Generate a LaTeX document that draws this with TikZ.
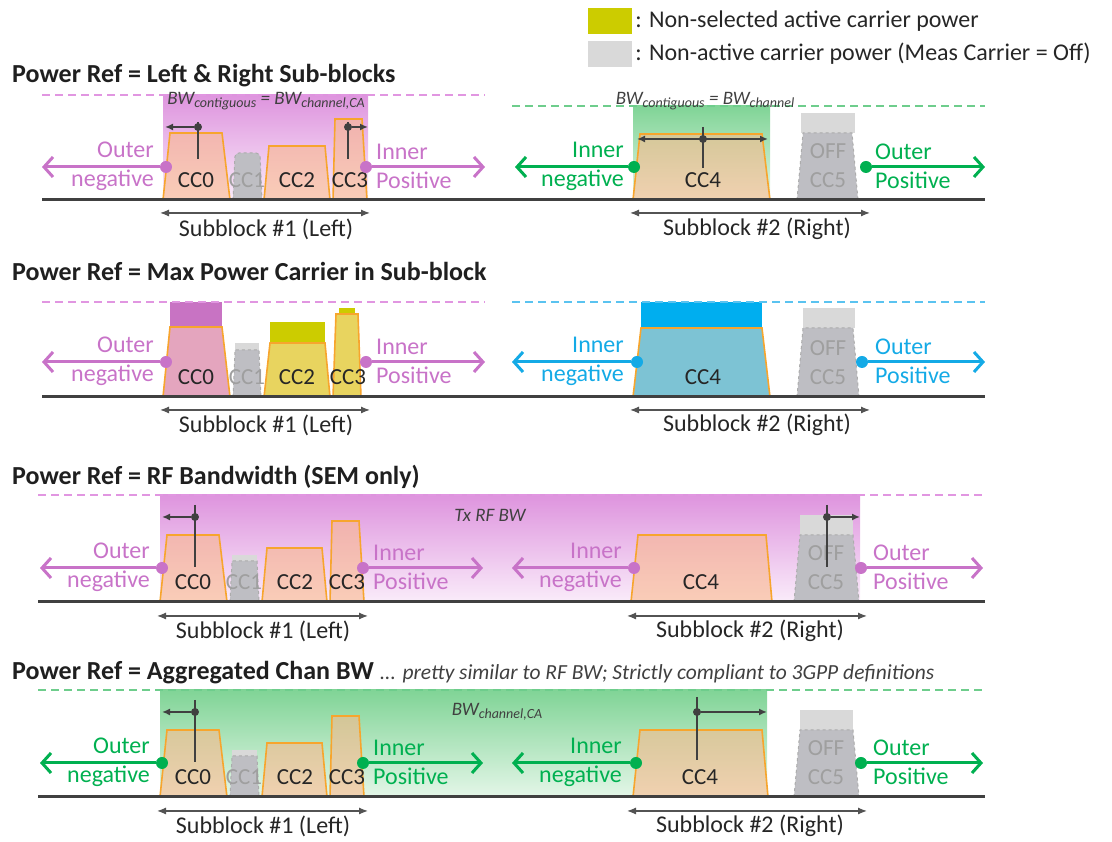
\documentclass[tikz,border=0pt]{standalone}
\usepackage{fontspec}
\setmainfont{Carlito}
\usetikzlibrary{arrows.meta,positioning}
\definecolor{pinkc}{RGB}{200,115,200}
\definecolor{pinkdash}{RGB}{225,150,225}
\definecolor{greenc}{RGB}{0,176,80}
\definecolor{greendash}{RGB}{110,205,140}
\definecolor{bluec}{RGB}{20,170,230}
\definecolor{bluedash}{RGB}{90,195,240}
\definecolor{ccline}{RGB}{247,165,45}
\definecolor{peach}{RGB}{250,185,140}
\definecolor{marker}{RGB}{64,64,64}
\definecolor{offgray}{RGB}{190,190,195}
\definecolor{lightoff}{RGB}{217,217,217}
\definecolor{ygreen}{RGB}{204,204,0}
\definecolor{magblock}{RGB}{200,115,195}
\definecolor{pinkfill}{RGB}{228,165,190}
\definecolor{yellfill}{RGB}{232,212,95}
\definecolor{tealfill}{RGB}{125,195,212}
\definecolor{cyanblock}{RGB}{0,174,239}
\definecolor{pinktop}{RGB}{222,148,222}
\definecolor{pinkbot}{RGB}{250,236,250}
\definecolor{greentop}{RGB}{128,212,150}
\definecolor{greenbot}{RGB}{228,246,232}
\newcommand{\subtx}[1]{\raisebox{-3pt}{\fontsize{14}{14}\selectfont #1}}

\begin{document}
\begin{tikzpicture}[x=1pt, y=1pt,
  title/.style={anchor=west, inner sep=0pt, text=black!88, font=\fontsize{26}{30}\selectfont\bfseries},
  sidetxt/.style={inner sep=0pt, text=#1, font=\fontsize{24}{29}\selectfont},
  cctxt/.style={inner sep=0pt, text=black!85, font=\fontsize{23}{29}\selectfont},
  offtxt/.style={cctxt, text=gray!75, align=center},
  bwtxt/.style={inner sep=0pt, text=marker, font=\fontsize{19}{22}\selectfont\itshape},
  subtxt/.style={inner sep=0pt, text=black!85, font=\fontsize{24}{28}\selectfont},
  legtxt/.style={inner sep=0pt, text=black!85, font=\fontsize{24}{28}\selectfont},
  legbox/.style={minimum width=44pt, minimum height=26pt, inner sep=0pt},
  cc/.style={draw=ccline, line width=1.6pt, fill=peach, fill opacity=0.6},
  offcc/.style={draw=gray!65, dashed, line width=1pt, fill=offgray},
  axisline/.style={draw=marker, line width=3pt},
  refline/.style={draw=#1, dash pattern=on 8pt off 5pt, line width=1.5pt},
  sdot/.style={circle, fill=#1, inner sep=0pt, minimum size=12pt},
  mdot/.style={circle, fill=marker, inner sep=0pt, minimum size=8pt},
  sarrow/.style={draw=#1, line width=3pt, -{Straight Barb[length=9pt,width=20pt]}},
  mline/.style={draw=marker, line width=1.8pt},
  marrow/.style={mline, -{Latex[length=8pt,width=7pt]}},
  subarrow/.style={draw=marker!90, line width=1.2pt, {Latex[length=9pt,width=7pt]}-{Latex[length=9pt,width=7pt]}}]
  \useasboundingbox (0,0) rectangle (1112,842);
  % legend
  \node[legbox, fill=ygreen] (k1) at (610,821) {};
  \node[legtxt, right=3pt of k1] (k1t) {: Non-selected active carrier power};
  \node[legbox, fill=lightoff] (k2) at (610,788) {};
  \node[legtxt, right=3pt of k2] (k2t) {: Non-active carrier power (Meas Carrier = Off)};
  % Left & Right sub-blocks
  \begin{scope}[yshift=642pt]
    \node[title] (t1) at (12,124) {Power Ref = Left \& Right Sub-blocks};
    \shade[top color=pinktop, bottom color=pinkbot] (163,0) rectangle (368,105);
    \shade[top color=greentop, bottom color=greenbot] (633,0) rectangle (770,94);
    \draw[refline=pinkdash] (42,105) -- (485,105);
    \draw[refline=greendash] (512,94) -- (985,94);
    \draw[cc] (163,0) -- (170,67) -- (222,67) -- (230,0);
    \draw[offcc, rounded corners=4pt] (233,0) -- (235,47) -- (260,47) -- (262,0);
    \draw[cc] (264,0) -- (269,54) -- (325,54) -- (330,0);
    \draw[cc] (333,0) -- (335,81) -- (362,81) -- (367,0);
    \draw[cc] (633,0) -- (640,66) -- (762,66) -- (770,0);
    \fill[lightoff] (801,67) rectangle (855,87);
    \draw[offcc] (797,0) -- (803,67) -- (852,67) -- (858,0);
    \draw[axisline] (42,0) -- (985,0);
    \node[bwtxt] (bw1) at (266,99) {BW\subtx{contiguous} = BW\subtx{channel,CA}};
    \node[bwtxt] (bw2) at (705,99) {BW\subtx{contiguous} = BW\subtx{channel}};
    \node[cctxt] (c10) at (196,20) {CC0};
    \node[offtxt] (c11) at (247,20) {CC1};
    \node[cctxt] (c12) at (297,20) {CC2};
    \node[cctxt] (c13) at (350,20) {CC3};
    \node[cctxt] (c14) at (703,20) {CC4};
    \node[offtxt] (c15) at (828,34) {OFF\\CC5};
    % edge markers
    \coordinate (m10t) at (198,78); \coordinate (m10b) at (198,41); \coordinate (m10e) at (165,73);
    \draw[mline] (m10t) -- (m10b);
    \node[mdot] (m10) at (198,73) {};
    \draw[marrow] (m10) -- (m10e);
    \coordinate (m13t) at (348,78); \coordinate (m13b) at (348,41); \coordinate (m13e) at (368,73);
    \draw[mline] (m13t) -- (m13b);
    \node[mdot] (m13) at (348,73) {};
    \draw[marrow] (m13) -- (m13e);
    \coordinate (m14t) at (703,73); \coordinate (m14b) at (703,32);
    \coordinate (m14l) at (637,61); \coordinate (m14r) at (768,61);
    \draw[mline] (m14t) -- (m14b);
    \draw[mline, {Latex[length=8pt,width=7pt]}-{Latex[length=8pt,width=7pt]}] (m14l) -- (m14r);
    \node[mdot] (m14) at (703,61) {};
    % offsets
    \node[sdot=pinkc] (d1a) at (166,33) {};
    \node[sdot=pinkc] (d1b) at (366,33) {};
    \node[sdot=greenc] (d1c) at (634,33) {};
    \node[sdot=greenc] (d1d) at (866,33) {};
    \coordinate (e1a) at (42,33); \coordinate (e1b) at (485,33);
    \coordinate (e1c) at (515,33); \coordinate (e1d) at (985,33);
    \draw[sarrow=pinkc] (d1a) -- (e1a);
    \draw[sarrow=pinkc] (d1b) -- (e1b);
    \draw[sarrow=greenc] (d1c) -- (e1c);
    \draw[sarrow=greenc] (d1d) -- (e1d);
    \node[sidetxt=pinkc, align=right, anchor=east] (o1a) at (154,34) {Outer\\negative};
    \node[sidetxt=pinkc, align=left, anchor=west] (o1b) at (376,34) {Inner\\Positive};
    \node[sidetxt=greenc, align=right, anchor=east] (o1c) at (624,34) {Inner\\negative};
    \node[sidetxt=greenc, align=left, anchor=west] (o1d) at (875,34) {Outer\\Positive};
    \coordinate (s1a) at (160,-13); \coordinate (s1b) at (370,-13);
    \coordinate (s1c) at (630,-13); \coordinate (s1d) at (870,-13);
    \draw[subarrow] (s1a) -- (s1b);
    \draw[subarrow] (s1c) -- (s1d);
    \node[subtxt] (u1a) at (266,-29) {Subblock \#1 (Left)};
    \node[subtxt] (u1b) at (757,-29) {Subblock \#2 (Right)};
  \end{scope}
  % Max power carrier
  \begin{scope}[yshift=445pt]
    \node[title] (t2) at (12,126) {Power Ref = Max Power Carrier in Sub-block};
    \fill[magblock] (170,70) rectangle (222,95);
    \draw[cc, fill=pinkfill, fill opacity=1] (163,0) -- (170,70) -- (222,70) -- (230,0);
    \fill[lightoff] (235,47) rectangle (259,54);
    \draw[offcc] (233,0) -- (235,47) -- (259,47) -- (261,0);
    \fill[ygreen] (270,54) rectangle (325,75);
    \draw[cc, fill=yellfill, fill opacity=1] (264,0) -- (270,54) -- (325,54) -- (330,0);
    \fill[ygreen] (339,83) rectangle (355,89);
    \draw[cc, fill=yellfill, fill opacity=1] (333,0) -- (336,83) -- (358,83) -- (361,0);
    \fill[cyanblock] (641,69) rectangle (762,95);
    \draw[cc, fill=tealfill, fill opacity=1] (633,0) -- (641,69) -- (762,69) -- (770,0);
    \fill[lightoff] (803,69) rectangle (855,89);
    \draw[offcc] (797,0) -- (803,69) -- (853,69) -- (859,0);
    \draw[refline=pinkdash] (42,95) -- (485,95);
    \draw[refline=bluedash] (512,95) -- (985,95);
    \draw[axisline] (42,0) -- (985,0);
    \node[cctxt] (c20) at (196,20) {CC0};
    \node[offtxt] (c21) at (247,20) {CC1};
    \node[cctxt] (c22) at (297,20) {CC2};
    \node[cctxt] (c23) at (348,20) {CC3};
    \node[cctxt] (c24) at (703,20) {CC4};
    \node[offtxt] (c25) at (828,34) {OFF\\CC5};
    \node[sdot=pinkc] (d2a) at (166,35) {};
    \node[sdot=pinkc] (d2b) at (366,35) {};
    \node[sdot=bluec] (d2c) at (637,35) {};
    \node[sdot=bluec] (d2d) at (862,35) {};
    \coordinate (e2a) at (42,35); \coordinate (e2b) at (485,35);
    \coordinate (e2c) at (512,35); \coordinate (e2d) at (985,35);
    \draw[sarrow=pinkc] (d2a) -- (e2a);
    \draw[sarrow=pinkc] (d2b) -- (e2b);
    \draw[sarrow=bluec] (d2c) -- (e2c);
    \draw[sarrow=bluec] (d2d) -- (e2d);
    \node[sidetxt=pinkc, align=right, anchor=east] (o2a) at (154,36) {Outer\\negative};
    \node[sidetxt=pinkc, align=left, anchor=west] (o2b) at (376,36) {Inner\\Positive};
    \node[sidetxt=bluec, align=right, anchor=east] (o2c) at (624,36) {Inner\\negative};
    \node[sidetxt=bluec, align=left, anchor=west] (o2d) at (875,36) {Outer\\Positive};
    \coordinate (s2a) at (160,-13); \coordinate (s2b) at (370,-13);
    \coordinate (s2c) at (630,-13); \coordinate (s2d) at (870,-13);
    \draw[subarrow] (s2a) -- (s2b);
    \draw[subarrow] (s2c) -- (s2d);
    \node[subtxt] (u2a) at (266,-28) {Subblock \#1 (Left)};
    \node[subtxt] (u2b) at (757,-28) {Subblock \#2 (Right)};
  \end{scope}
  % RF bandwidth
  \begin{scope}[yshift=240pt]
    \node[title] (t3) at (12,125) {Power Ref = RF Bandwidth (SEM only)};
    \shade[top color=pinktop, bottom color=pinkbot] (160,0) rectangle (860,107);
    \draw[refline=pinkdash] (38,107) -- (985,107);
    \draw[cc] (160,0) -- (167,67) -- (219,67) -- (227,0);
    \fill[lightoff] (232,41) rectangle (257,47);
    \draw[offcc] (230,0) -- (232,41) -- (257,41) -- (259,0);
    \draw[cc] (262,0) -- (267,54) -- (322,54) -- (327,0);
    \draw[cc] (330,0) -- (332,81) -- (359,81) -- (364,0);
    \draw[cc] (631,0) -- (638,67) -- (766,67) -- (772,0);
    \fill[lightoff] (800,67) rectangle (853,87);
    \draw[offcc] (794,0) -- (800,67) -- (853,67) -- (859,0);
    \draw[axisline] (38,0) -- (985,0);
    \node[bwtxt] (bw3) at (490,87) {Tx RF BW};
    \node[cctxt] (c30) at (193,20) {CC0};
    \node[offtxt] (c31) at (244,20) {CC1};
    \node[cctxt] (c32) at (295,20) {CC2};
    \node[cctxt] (c33) at (347,20) {CC3};
    \node[cctxt] (c34) at (701,20) {CC4};
    \node[offtxt] (c35) at (826,34) {OFF\\CC5};
    \coordinate (m30t) at (195,97); \coordinate (m30b) at (195,35); \coordinate (m30e) at (162,85);
    \draw[mline] (m30t) -- (m30b);
    \node[mdot] (m30) at (195,85) {};
    \draw[marrow] (m30) -- (m30e);
    \coordinate (m35t) at (827,97); \coordinate (m35b) at (827,35); \coordinate (m35e) at (860,85);
    \draw[mline] (m35t) -- (m35b);
    \node[mdot] (m35) at (827,85) {};
    \draw[marrow] (m35) -- (m35e);
    \node[sdot=pinkc] (d3a) at (162,34) {};
    \node[sdot=pinkc] (d3b) at (363,34) {};
    \node[sdot=pinkc] (d3c) at (634,34) {};
    \node[sdot=pinkc] (d3d) at (861,34) {};
    \coordinate (e3a) at (40,34); \coordinate (e3b) at (483,34);
    \coordinate (e3c) at (512,34); \coordinate (e3d) at (983,34);
    \draw[sarrow=pinkc] (d3a) -- (e3a);
    \draw[sarrow=pinkc] (d3b) -- (e3b);
    \draw[sarrow=pinkc] (d3c) -- (e3c);
    \draw[sarrow=pinkc] (d3d) -- (e3d);
    \node[sidetxt=pinkc, align=right, anchor=east] (o3a) at (150,35) {Outer\\negative};
    \node[sidetxt=pinkc, align=left, anchor=west] (o3b) at (373,35) {Inner\\Positive};
    \node[sidetxt=pinkc, align=right, anchor=east] (o3c) at (622,35) {Inner\\negative};
    \node[sidetxt=pinkc, align=left, anchor=west] (o3d) at (873,35) {Outer\\Positive};
    \coordinate (s3a) at (157,-14); \coordinate (s3b) at (368,-14);
    \coordinate (s3c) at (627,-14); \coordinate (s3d) at (867,-14);
    \draw[subarrow] (s3a) -- (s3b);
    \draw[subarrow] (s3c) -- (s3d);
    \node[subtxt] (u3a) at (263,-29) {Subblock \#1 (Left)};
    \node[subtxt] (u3b) at (750,-29) {Subblock \#2 (Right)};
  \end{scope}
  % Aggregated channel BW
  \begin{scope}[yshift=45pt]
    \node[title] (t4) at (12,124) {Power Ref = Aggregated Chan BW {\mdseries\itshape\fontsize{21.5}{24}\selectfont\color{marker} ... pretty similar to RF BW; Strictly compliant to 3GPP definitions}};
    \shade[top color=greentop, bottom color=greenbot] (160,0) rectangle (767,107);
    \draw[refline=greendash] (38,107) -- (985,107);
    \draw[cc] (160,0) -- (167,67) -- (219,67) -- (227,0);
    \fill[lightoff] (232,41) rectangle (257,47);
    \draw[offcc] (230,0) -- (232,41) -- (257,41) -- (259,0);
    \draw[cc] (262,0) -- (267,54) -- (322,54) -- (327,0);
    \draw[cc] (330,0) -- (332,81) -- (359,81) -- (364,0);
    \draw[cc] (633,0) -- (640,67) -- (762,67) -- (768,0);
    \fill[lightoff] (800,67) rectangle (853,87);
    \draw[offcc] (794,0) -- (800,67) -- (853,67) -- (859,0);
    \draw[axisline] (38,0) -- (985,0);
    \node[bwtxt] (bw4) at (497,85) {BW\subtx{channel,CA}};
    \node[cctxt] (c40) at (193,20) {CC0};
    \node[offtxt] (c41) at (244,20) {CC1};
    \node[cctxt] (c42) at (295,20) {CC2};
    \node[cctxt] (c43) at (347,20) {CC3};
    \node[cctxt] (c44) at (700,20) {CC4};
    \node[offtxt] (c45) at (826,34) {OFF\\CC5};
    \coordinate (m40t) at (195,97); \coordinate (m40b) at (195,35); \coordinate (m40e) at (162,85);
    \draw[mline] (m40t) -- (m40b);
    \node[mdot] (m40) at (195,85) {};
    \draw[marrow] (m40) -- (m40e);
    \coordinate (m44t) at (697,100); \coordinate (m44b) at (697,37); \coordinate (m44e) at (767,85);
    \draw[mline] (m44t) -- (m44b);
    \node[mdot] (m44) at (697,85) {};
    \draw[marrow] (m44) -- (m44e);
    \node[sdot=greenc] (d4a) at (162,34) {};
    \node[sdot=greenc] (d4b) at (363,34) {};
    \node[sdot=greenc] (d4c) at (636,34) {};
    \node[sdot=greenc] (d4d) at (861,34) {};
    \coordinate (e4a) at (40,34); \coordinate (e4b) at (483,34);
    \coordinate (e4c) at (512,34); \coordinate (e4d) at (983,34);
    \draw[sarrow=greenc] (d4a) -- (e4a);
    \draw[sarrow=greenc] (d4b) -- (e4b);
    \draw[sarrow=greenc] (d4c) -- (e4c);
    \draw[sarrow=greenc] (d4d) -- (e4d);
    \node[sidetxt=greenc, align=right, anchor=east] (o4a) at (150,35) {Outer\\negative};
    \node[sidetxt=greenc, align=left, anchor=west] (o4b) at (373,35) {Inner\\Positive};
    \node[sidetxt=greenc, align=right, anchor=east] (o4c) at (622,35) {Inner\\negative};
    \node[sidetxt=greenc, align=left, anchor=west] (o4d) at (873,35) {Outer\\Positive};
    \coordinate (s4a) at (157,-14); \coordinate (s4b) at (368,-14);
    \coordinate (s4c) at (627,-14); \coordinate (s4d) at (867,-14);
    \draw[subarrow] (s4a) -- (s4b);
    \draw[subarrow] (s4c) -- (s4d);
    \node[subtxt] (u4a) at (263,-29) {Subblock \#1 (Left)};
    \node[subtxt] (u4b) at (750,-29) {Subblock \#2 (Right)};
  \end{scope}
\end{tikzpicture}
\end{document}
